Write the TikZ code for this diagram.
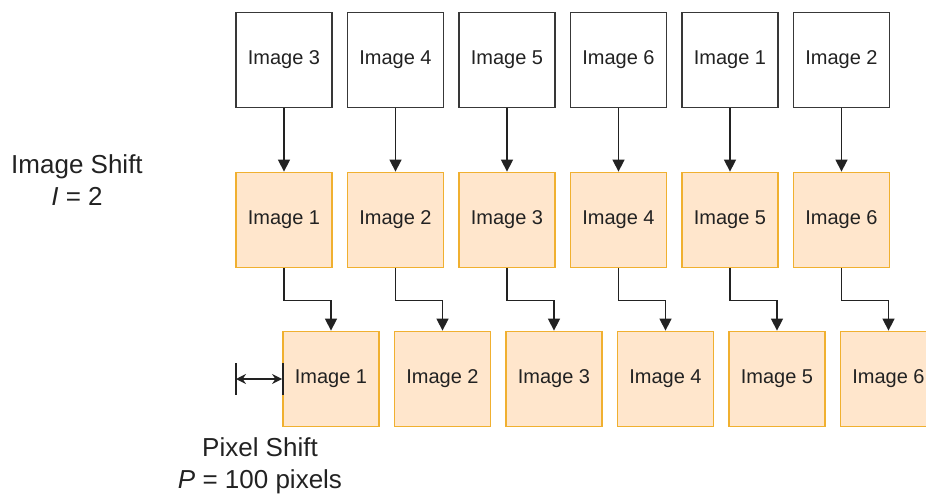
\documentclass[tikz,border=0pt]{standalone}
\usepackage{fontspec}
\setmainfont{Liberation Sans}
\usetikzlibrary{arrows.meta}
\definecolor{obord}{HTML}{F0B030}
\definecolor{ofill}{HTML}{FFE6CC}
\definecolor{ink}{HTML}{222222}
\begin{document}
\begin{tikzpicture}[x=1pt,y=1pt,
  imgbox/.style={minimum width=96pt,minimum height=95pt,inner sep=0pt,line width=1.8pt,font=\fontsize{20}{24}\selectfont,text=ink},
  topbox/.style={imgbox,draw=ink!90,fill=white},
  obox/.style={imgbox,draw=obord,fill=ofill},
  conn/.style={draw=ink,line width=1.5pt,-{Triangle[length=12pt,width=12pt]}},
  lbl/.style={font=\fontsize{26}{32}\selectfont,text=ink,align=center}]
\useasboundingbox (0,0) rectangle (926,-495);
\clip (0,0) rectangle (926,-495);
\foreach \i/\t/\m in {0/3/1,1/4/2,2/5/3,3/6/4,4/1/5,5/2/6}{
  \node[topbox] (t\i) at ({284+111.5*\i},-60) {Image \t};
  \node[obox] (m\i) at ({284+111.5*\i},-220) {Image \m};
  \node[obox] (b\i) at ({331+111.5*\i},-379) {Image \m};
  \draw[conn] (t\i.south) -- (m\i.north);
  \draw[conn] (m\i.south) -- ++(0,-32) -| (b\i.north);
}
\node[lbl] (ishift) at (77,-180) {Image Shift\\\textit{I} = 2};
\coordinate (pl) at (236,-379);
\coordinate (plt) at (236,-363);
\coordinate (plb) at (236,-395);
\coordinate (prt) at (283,-363);
\coordinate (prb) at (283,-395);
\draw[ink,line width=1.5pt] (plt) -- (plb);
\draw[ink,line width=1.5pt] (prt) -- (prb);
\draw[ink,line width=1.5pt,{Stealth[length=10pt,width=10pt]}-{Stealth[length=10pt,width=10pt]}] (pl) -- (b0.west);
\node[lbl] (pshift) at (260,-466) {Pixel Shift\\\textit{P} = 100 pixels};
\end{tikzpicture}
\end{document}
